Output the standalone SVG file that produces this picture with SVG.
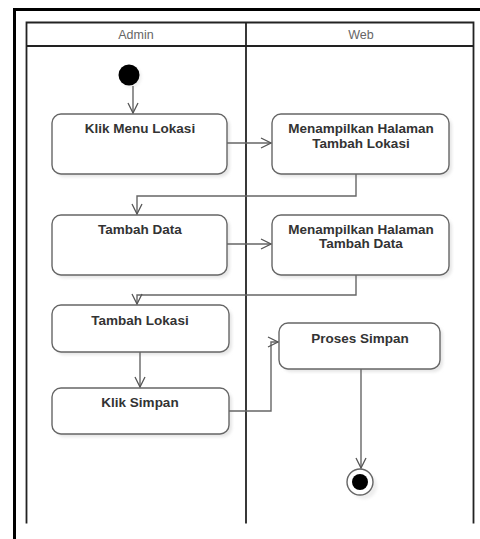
<svg xmlns="http://www.w3.org/2000/svg" width="480" height="539" viewBox="0 0 480 539">
  <defs>
    <marker id="open-arrow" viewBox="0 0 12 12" refX="11" refY="6" markerWidth="12" markerHeight="12" markerUnits="userSpaceOnUse" orient="auto">
      <path d="M1,1 L11,6 L1,11" fill="none" stroke="#555" stroke-width="1.3"/>
    </marker>
    <filter id="soft" x="-20%" y="-20%" width="140%" height="140%">
      <feGaussianBlur stdDeviation="1.5"/>
    </filter>
  </defs>
  <style>
    .frame { fill: none; stroke: #000; stroke-width: 3; }
    .lane { fill: none; stroke: #222; stroke-width: 1.8; }
    .lane-title { font-family: "Liberation Sans", Arial, sans-serif; font-size: 12.5px; fill: #666; text-anchor: middle; }
    .act { fill: #fff; stroke: #666; stroke-width: 1.4; }
    .shadow { fill: #e6e6e6; filter: url(#soft); }
    .label { font-family: "Liberation Sans", Arial, sans-serif; font-size: 13.5px; font-weight: bold; fill: #333; text-anchor: middle; }
    .flow { fill: none; stroke: #666; stroke-width: 1.4; marker-end: url(#open-arrow); }
  </style>

  <rect width="480" height="539" fill="#fff"/>

  <!-- outer frame -->
  <path class="frame" d="M14.5,539 L14.5,9.5 L480,9.5"/>

  <!-- swimlanes (open at the bottom) -->
  <g id="lanes">
    <path class="lane" d="M26.5,523.5 L26.5,22.5 L473.5,22.5 L473.5,523.5"/>
    <line class="lane" x1="26.5" y1="46" x2="473.5" y2="46"/>
    <line class="lane" x1="246" y1="22.5" x2="246" y2="523.5"/>
    <text class="lane-title" x="136" y="39">Admin</text>
    <text class="lane-title" x="361" y="39">Web</text>
  </g>

  <!-- start -->
  <g id="start">
    <circle cx="131" cy="77" r="10.5" fill="#eee" filter="url(#soft)"/>
    <circle cx="129" cy="75" r="10.5" fill="#000"/>
  </g>

  <g id="klik-menu-lokasi">
    <rect class="shadow" x="55" y="117" width="175" height="60" rx="9"/>
    <rect class="act" x="52" y="114" width="175" height="60" rx="9"/>
    <text class="label" x="140" y="133">Klik Menu Lokasi</text>
  </g>

  <g id="tampil-tambah-lokasi">
    <rect class="shadow" x="275" y="117" width="177" height="60" rx="9"/>
    <rect class="act" x="272" y="114" width="177" height="60" rx="9"/>
    <text class="label" x="361" y="133">Menampilkan Halaman</text>
    <text class="label" x="361" y="148">Tambah Lokasi</text>
  </g>

  <g id="tambah-data">
    <rect class="shadow" x="55" y="218" width="175" height="60" rx="9"/>
    <rect class="act" x="52" y="215" width="175" height="60" rx="9"/>
    <text class="label" x="140" y="234">Tambah Data</text>
  </g>

  <g id="tampil-tambah-data">
    <rect class="shadow" x="275" y="218" width="177" height="60" rx="9"/>
    <rect class="act" x="272" y="215" width="177" height="60" rx="9"/>
    <text class="label" x="361" y="234">Menampilkan Halaman</text>
    <text class="label" x="361" y="248">Tambah Data</text>
  </g>

  <g id="tambah-lokasi">
    <rect class="shadow" x="55" y="308" width="177" height="47" rx="9"/>
    <rect class="act" x="52" y="305" width="177" height="47" rx="9"/>
    <text class="label" x="140" y="325">Tambah Lokasi</text>
  </g>

  <g id="klik-simpan">
    <rect class="shadow" x="55" y="391" width="177" height="46" rx="9"/>
    <rect class="act" x="52" y="388" width="177" height="46" rx="9"/>
    <text class="label" x="140" y="407">Klik Simpan</text>
  </g>

  <g id="proses-simpan">
    <rect class="shadow" x="282" y="326" width="161" height="46" rx="9"/>
    <rect class="act" x="279" y="323" width="161" height="46" rx="9"/>
    <text class="label" x="360" y="343">Proses Simpan</text>
  </g>

  <!-- end -->
  <g id="end">
    <circle cx="364" cy="486" r="13" fill="#eee" filter="url(#soft)"/>
    <circle cx="360" cy="482" r="13" fill="#fff" stroke="#666" stroke-width="1.4"/>
    <circle cx="360" cy="482" r="8" fill="#000"/>
  </g>

  <!-- connectors -->
  <g id="connectors">
    <path class="flow" d="M133,86 L133,113"/>
    <path class="flow" d="M227,143 L271,143"/>
    <path class="flow" d="M356,174 L356,196 L137,196 L137,214"/>
    <path class="flow" d="M227,244 L271,244"/>
    <path class="flow" d="M356,275 L356,295 L137,295 L137,304"/>
    <path class="flow" d="M140,352 L140,387"/>
    <path class="flow" d="M229,411 L271,411 L271,342 L278,342"/>
    <path class="flow" d="M361,369 L361,468"/>
  </g>
</svg>
